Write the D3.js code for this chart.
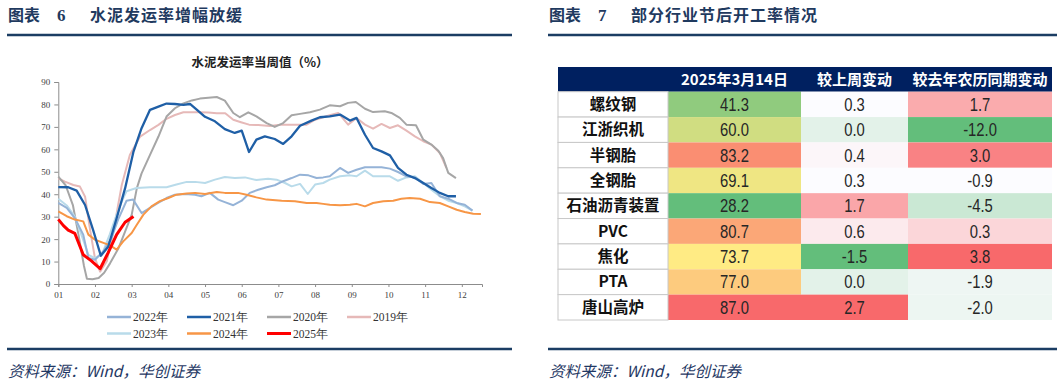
<!DOCTYPE html>
<html><head><meta charset="utf-8">
<script src="https://cdn.jsdelivr.net/npm/d3@7/dist/d3.min.js"></script>
<style>
html,body{margin:0;padding:0;background:#fff;}
svg{display:block;}
</style></head>
<body>
<svg id="c" width="1062" height="392"></svg>
<script>
// ---------- DATA: line chart (x = position in months from Jan, y = %) ----------
const monthLabels = ["01","02","03","04","05","06","07","08","09","10","11","12"];
const yTicks = [0,10,20,30,40,50,60,70,80,90];
const s2019 = [[0,47.1],[0.18,45.6],[0.41,44.1],[0.59,43.4],[0.73,38.9],[0.86,24.8],[1.0,11.4],[1.14,5.5],[1.32,10],[1.5,23.3],[1.73,44.1],[1.95,57.5],[2.23,65.7],[2.5,68.6],[2.73,70.9],[2.95,73.6],[3.18,75.3],[3.41,76.5],[3.64,76.5],[3.86,76.5],[4.09,76.4],[4.32,76.1],[4.55,76.1],[4.77,73.2],[4.98,72.1],[5.2,71],[5.45,70.8],[5.77,70.4],[6.05,70.9],[6.45,71],[6.77,71],[7.0,73.2],[7.22,74.3],[7.4,75.2],[7.63,76.2],[7.9,71],[8.13,74],[8.36,71],[8.58,69.2],[8.81,71.3],[9.04,69.5],[9.26,70.7],[9.49,68.3],[9.72,65.8],[9.95,63.6],[10.17,62.1],[10.4,58.4],[10.58,51.7]];
const s2020 = [[0,47.8],[0.2,44],[0.4,35],[0.55,22],[0.7,8],[0.78,2.3],[0.93,2.1],[1.1,2.7],[1.25,5],[1.41,9.2],[1.64,15.9],[1.82,23.3],[2.0,30.8],[2.14,42.6],[2.27,49.3],[2.5,57.5],[2.73,65.7],[2.95,74.6],[3.18,78.3],[3.41,80.5],[3.64,81.8],[3.86,82.6],[4.09,83],[4.32,83.3],[4.54,81.7],[4.77,76.2],[4.95,74.3],[5.18,76.5],[5.4,74.7],[5.68,71.7],[5.9,70],[6.13,71.7],[6.36,75.2],[6.59,75.8],[6.86,76.5],[7.13,77.7],[7.4,79.6],[7.68,79.2],[7.9,80.7],[8.11,81.1],[8.36,78.1],[8.58,76.6],[8.9,77],[9.08,76.2],[9.31,74],[9.49,71],[9.75,70.7],[9.95,64.3],[10.17,62.1],[10.36,59.4],[10.49,56.1],[10.63,49.5],[10.84,47.2]];
const s2021 = [[0,43.2],[0.27,43.1],[0.5,41.6],[0.73,35.2],[0.95,24],[1.16,12.6],[1.36,16.6],[1.59,29.3],[1.82,42.6],[2.05,59],[2.27,69.4],[2.5,77.6],[2.73,79],[2.95,80.4],[3.18,80.2],[3.41,79.8],[3.59,80.2],[3.82,77],[4.0,74.5],[4.27,72.5],[4.54,69],[4.81,67.3],[5.0,68.3],[5.2,58.8],[5.4,64.3],[5.63,65.8],[5.9,64.6],[6.13,62.4],[6.36,65.8],[6.59,70.5],[6.9,72.8],[7.13,74.3],[7.4,74.7],[7.68,75.5],[7.95,72.8],[8.13,74],[8.36,66.5],[8.58,60.6],[8.81,59.1],[9.04,57.3],[9.26,51.7],[9.49,48.7],[9.72,47.2],[9.95,45],[10.17,42.8],[10.4,40.6],[10.63,39.1],[10.84,39.1]];
const s2022 = [[0,36.1],[0.23,33.9],[0.45,29.4],[0.68,22],[0.82,11.6],[1.0,10.8],[1.23,14.6],[1.45,20.5],[1.63,28.7],[1.86,37.1],[2.04,37.6],[2.27,31.6],[2.5,33.9],[2.72,36.1],[2.95,38.3],[3.18,39.8],[3.45,40.1],[3.73,39.8],[3.9,39.1],[4.13,40.6],[4.36,37.6],[4.54,36.5],[4.77,35.1],[5.0,37.1],[5.22,40.6],[5.45,42],[5.68,43.1],[5.9,44],[6.13,45.8],[6.36,47.2],[6.59,48.7],[6.82,48.4],[7.04,47.2],[7.22,47.5],[7.4,48],[7.68,51.7],[7.9,49.5],[8.13,50.9],[8.36,52],[8.58,52],[8.81,52],[9.04,51.4],[9.26,49.9],[9.49,48],[9.72,47.5],[9.95,44.6],[10.17,45],[10.4,39.1],[10.63,38],[10.86,36.1],[11.08,35.3],[11.29,32.7]];
const s2023 = [[0,38],[0.23,35],[0.45,30],[0.65,21],[0.82,13],[1.0,11.5],[1.2,13.5],[1.4,22],[1.59,30.9],[1.75,37.5],[1.86,41.3],[2.13,42.8],[2.5,43.1],[2.95,43.1],[3.22,44.3],[3.5,45.5],[3.73,45.5],[4.0,45],[4.27,46.5],[4.54,47.7],[4.81,47.2],[5.09,47.5],[5.4,46.3],[5.72,46.9],[5.95,46.5],[6.18,45],[6.36,43.5],[6.59,44.6],[6.8,40.1],[7.0,44.3],[7.22,45],[7.4,46.5],[7.68,48],[7.95,48.4],[8.13,48],[8.36,50.5],[8.58,48],[8.81,48],[9.04,48],[9.26,46],[9.49,47.5],[9.72,48],[9.95,45],[10.17,42],[10.4,39.1],[10.63,37.1],[10.86,36.1],[11.08,34.6],[11.29,32.7]];
const s2024 = [[0,32.4],[0.23,30.2],[0.45,28.7],[0.68,27.9],[0.82,22],[1.0,19.7],[1.23,18.3],[1.41,17.2],[1.59,15.3],[1.77,19],[2.0,22.7],[2.14,26.4],[2.32,30.9],[2.54,34.6],[2.77,36.9],[3.0,38.3],[3.22,39.8],[3.5,40.3],[3.73,40.6],[4.0,40.1],[4.32,41],[4.54,40.6],[4.9,40.6],[5.13,39.8],[5.4,38.6],[5.68,37.6],[6.09,37.1],[6.45,36.9],[6.77,36.1],[7.04,36.1],[7.22,35.7],[7.4,35.3],[7.68,35.1],[7.95,35.3],[8.13,35.7],[8.36,34.6],[8.58,36.1],[8.86,36.9],[9.13,37.1],[9.35,38],[9.58,38.3],[9.86,38],[10.13,36.5],[10.4,36.1],[10.63,34.6],[10.86,33.1],[11.08,32.1],[11.31,31.3],[11.52,31.2]];
const s2025 = [[0,28.8],[0.14,26],[0.27,24],[0.45,22.6],[0.68,13],[0.91,10.2],[1.14,6.8],[1.36,14],[1.59,22],[1.82,27.5],[2.05,30.1]];
const seriesNames = ["2022年","2021年","2020年","2019年","2023年","2024年","2025年"];

// ---------- DATA: table ----------
const rowLabels = ["螺纹钢","江浙织机","半钢胎","全钢胎","石油沥青装置","PVC","焦化","PTA","唐山高炉"];
const colHeaders = ["2025年3月14日","较上周变动","较去年农历同期变动"];
const rateNow = [41.3,60.0,83.2,69.1,28.2,80.7,73.7,77.0,87.0];
const wowChange = [0.3,0.0,0.4,0.3,1.7,0.6,-1.5,0.0,2.7];
const yoyChange = [1.7,-12.0,3.0,-0.9,-4.5,0.3,3.8,-1.9,-2.0];

// ---------- DRAW ----------
const svg = d3.select("#c");
svg.append("rect").attr("width",1062).attr("height",392).attr("fill","#fff");
const navy = "#1f3a5f";
const cjk = "'Noto Sans CJK SC','Noto Sans',sans-serif";
const serif = "'Liberation Serif','DejaVu Serif',serif";

function panelFrame(x0, x1, num, title){
  svg.append("text").attr("x",x0+1).attr("y",21).attr("font-family",cjk).attr("font-weight","bold")
    .attr("font-size",16).attr("fill",navy).text("图表");
  svg.append("text").attr("x",x0+50).attr("y",21).attr("font-family",serif).attr("font-weight","bold")
    .attr("font-size",17).attr("fill",navy).text(num);
  svg.append("text").attr("x",x0+83).attr("y",21).attr("font-family",cjk).attr("font-weight","bold")
    .attr("font-size",16).attr("fill",navy).attr("letter-spacing",1).text(title);
  svg.append("line").attr("x1",x0).attr("x2",x1).attr("y1",35).attr("y2",35)
    .attr("stroke","#1b3d63").attr("stroke-width",2.5);
  svg.append("line").attr("x1",x0).attr("x2",x1).attr("y1",349).attr("y2",349)
    .attr("stroke","#1b3d63").attr("stroke-width",2.5);
  svg.append("text").attr("x",x0+1).attr("y",377).attr("font-family","'Noto Sans CJK SC',serif")
    .attr("font-style","italic").attr("font-size",15.5).attr("fill","#1f3864")
    .text("资料来源：Wind，华创证券");
}
panelFrame(7, 512, "6", "水泥发运率增幅放缓");
panelFrame(548, 1057, "7", "部分行业节后开工率情况");

// ----- line chart -----
const x = d3.scaleLinear().domain([0, 11.55]).range([58.3, 482]);
const y = d3.scaleLinear().domain([0, 90]).range([284, 82]);
const g = svg.append("g");

svg.append("text").attr("x",260).attr("y",67).attr("text-anchor","middle")
  .attr("font-family",cjk).attr("font-weight","bold").attr("font-size",12.5).attr("fill","#222")
  .text("水泥发运率当周值（%）");

const yAxis = g.append("g").attr("transform",`translate(${x(0)},0)`)
  .call(d3.axisLeft(y).tickValues(yTicks).tickSize(4).tickFormat(d3.format("d")));
const xAxis = g.append("g").attr("transform",`translate(0,${y(0)})`)
  .call(d3.axisBottom(x).tickValues(d3.range(12)).tickSize(3).tickFormat(i=>monthLabels[i]));
[yAxis,xAxis].forEach(a=>{
  a.select(".domain").attr("stroke","#8c8c8c");
  a.selectAll(".tick line").attr("stroke","#8c8c8c");
  a.selectAll("text").attr("font-family",serif).attr("font-size",9).attr("fill","#404040");
});
xAxis.selectAll("text").attr("dy","0.9em");
yAxis.selectAll("text").attr("dx","-1");

const line = d3.line().x(d=>x(d[0])).y(d=>y(d[1]));
const seriesDefs = [
  {name:"2019年", data:s2019, color:"#e6b9b8", w:2},
  {name:"2020年", data:s2020, color:"#a6a6a6", w:2},
  {name:"2023年", data:s2023, color:"#b9dbea", w:2},
  {name:"2022年", data:s2022, color:"#95b3d7", w:2},
  {name:"2024年", data:s2024, color:"#f79646", w:2},
  {name:"2021年", data:s2021, color:"#1f5fa6", w:2.3},
  {name:"2025年", data:s2025, color:"#ff0000", w:3}
];
g.selectAll("path.series").data(seriesDefs).join("path").attr("class","series")
  .attr("d",d=>line(d.data)).attr("fill","none").attr("stroke",d=>d.color)
  .attr("stroke-width",d=>d.w).attr("stroke-linejoin","round");

// legend
const byName = Object.fromEntries(seriesDefs.map(d=>[d.name,d]));
const legend = svg.append("g");
seriesNames.forEach((n,i)=>{
  const row = i<4 ? 0 : 1, col = i<4 ? i : i-4;
  const lx = 107 + col*80, ly = 317 + row*16.5;
  const s = byName[n];
  legend.append("line").attr("x1",lx).attr("x2",lx+24).attr("y1",ly).attr("y2",ly)
    .attr("stroke",s.color).attr("stroke-width",n==="2025年"?3:2.5);
  legend.append("text").attr("x",lx+26).attr("y",ly+4).attr("font-family",serif)
    .attr("font-size",11.5).attr("fill","#333").text(n);
});

// ----- table -----
const colEdges = [558, 668, 801, 908, 1052];
const headTop = 67, headBottom = 91.7, tableBottom = 320;
const rowY = d3.scaleBand().domain(rowLabels).range([headBottom, tableBottom]);
const tbl = svg.append("g");
tbl.append("rect").attr("x",colEdges[0]).attr("y",headTop).attr("width",colEdges[4]-colEdges[0])
  .attr("height",headBottom-headTop).attr("fill","#002060");
colHeaders.forEach((h,i)=>{
  tbl.append("text").attr("x",(colEdges[i+1]+colEdges[i+2])/2).attr("y",(headTop+headBottom)/2+5.5)
    .attr("text-anchor","middle").attr("font-family",cjk).attr("font-weight","bold")
    .attr("font-size",15).attr("fill","#fff").text(h);
});
const green="#63be7b", yellow="#ffeb84", red="#f8696b", white="#fcfcff";
function scale3(vals, midColor){
  const s = vals.slice().sort(d3.ascending);
  return d3.scaleLinear().domain([s[0], d3.median(s), s[s.length-1]])
    .range([green, midColor, red]).interpolate(d3.interpolateRgb);
}
const cols = [
  {vals:rateNow, color:scale3(rateNow, yellow)},
  {vals:wowChange, color:scale3(wowChange, white)},
  {vals:yoyChange, color:scale3(yoyChange, white)}
];
const numFont = "'Liberation Sans','Arial',sans-serif";
cols.forEach((c,ci)=>{
  const x0 = colEdges[ci+1], x1 = colEdges[ci+2];
  tbl.selectAll(null).data(rowLabels).join("rect")
    .attr("x",x0).attr("y",d=>rowY(d)).attr("width",x1-x0).attr("height",rowY.bandwidth())
    .attr("fill",(d,i)=>c.color(c.vals[i]));
  tbl.selectAll(null).data(rowLabels).join("text")
    .attr("transform",d=>`translate(${(x0+x1)/2},${rowY(d)+rowY.bandwidth()/2+6.5}) scale(0.8,1)`)
    .attr("text-anchor","middle").attr("font-family",numFont).attr("font-size",18.5)
    .attr("fill","#262626").text((d,i)=>d3.format(".1f")(c.vals[i]).replace("−","-"));
});
// label column
tbl.selectAll(null).data(rowLabels).join("rect")
  .attr("x",colEdges[0]).attr("y",d=>rowY(d)).attr("width",colEdges[1]-colEdges[0])
  .attr("height",rowY.bandwidth()).attr("fill","#fff").attr("stroke","#c8c8c8").attr("stroke-width",1);
tbl.selectAll(null).data(rowLabels).join("text")
  .attr("x",(colEdges[0]+colEdges[1])/2).attr("y",d=>rowY(d)+rowY.bandwidth()/2+5.5)
  .attr("text-anchor","middle").attr("font-family",cjk).attr("font-weight","bold")
  .attr("font-size",15.5).attr("fill","#111").text(d=>d);
</script>
</body></html>
